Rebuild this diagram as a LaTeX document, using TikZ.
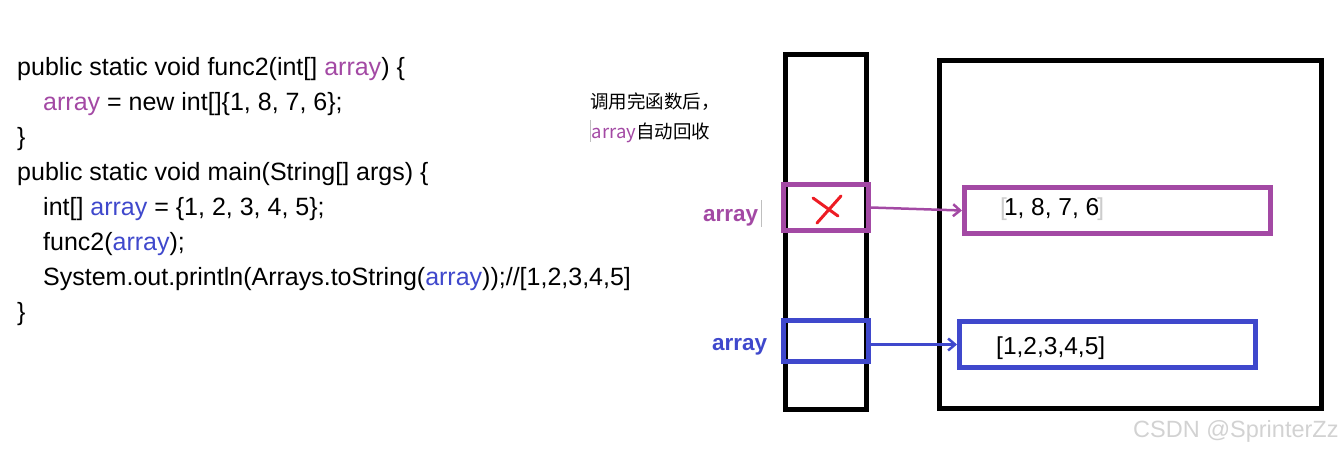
\documentclass[tikz,border=0pt]{standalone}
\usepackage{fontspec}
\setmainfont{Liberation Sans}
\newfontfamily\cjk{Noto Sans CJK SC}
\usetikzlibrary{arrows.meta}
\definecolor{varpurple}{HTML}{A349A4}
\definecolor{varblue}{HTML}{3F48CC}
\definecolor{crossred}{HTML}{ED1C24}

\begin{document}
\begin{tikzpicture}[x=1pt, y=-1pt,
  code/.style={anchor=base west, inner sep=0pt, font=\fontsize{25}{30}\selectfont},
  frame/.style={draw=black, line width=5pt, inner sep=0pt},
  slot/.style={draw=#1, line width=5pt, inner sep=0pt},
  ref/.style={draw=#1, line width=2.5pt, -{Straight Barb[length=7pt,width=12pt]}}]
\useasboundingbox (0,0) rectangle (1344,451);

\node[code] (l1) at (17,75) {public static void func2(int[] \textcolor{varpurple}{array}) \{};
\node[code] (l2) at (43,110) {\textcolor{varpurple}{array} = new int[]\{1, 8, 7, 6\};};
\node[code] (l3) at (17,145) {\}};
\node[code] (l4) at (17,180) {public static void main(String[] args) \{};
\node[code] (l5) at (43,215) {int[] \textcolor{varblue}{array} = \{1, 2, 3, 4, 5\};};
\node[code] (l6) at (43,250) {func2(\textcolor{varblue}{array});};
\node[code] (l7) at (43,285) {System.out.println(Arrays.toString(\textcolor{varblue}{array}));//[1,2,3,4,5]};
\node[code] (l8) at (17,320) {\}};

\node[anchor=base west, inner sep=0pt, font=\cjk\fontsize{18.5}{22}\selectfont] (note1) at (590,108) {调用完函数后，};
\node[anchor=base west, inner sep=0pt, font=\cjk\fontsize{18.5}{22}\selectfont] (note2) at (590,138) {\textcolor{gray!50}{\rule[-0.2em]{0.6pt}{1.15em}}\hspace{1pt}\textcolor{varpurple}{array}自动回收};

\node[frame, minimum width=81pt, minimum height=355pt] (stack) at (826,232) {};
\node[frame, minimum width=382pt, minimum height=348pt] (heap) at (1130.5,234.5) {};

\node[slot=varpurple, minimum width=85pt, minimum height=46pt] (ref1) at (826,207.5) {};
\node[slot=varblue, minimum width=85pt, minimum height=41pt] (ref2) at (826,341) {};
\node[slot=varpurple, minimum width=306pt, minimum height=46pt] (obj1) at (1117.5,210.5) {};
\node[slot=varblue, minimum width=296pt, minimum height=46pt] (obj2) at (1107.5,344.5) {};

\node[anchor=base west, inner sep=0pt, font=\bfseries\fontsize{22.5}{27}\selectfont, text=varpurple] (lab1) at (703,221) {array\hspace{3pt}\textcolor{gray!50}{\rule[-0.25em]{0.6pt}{1.2em}}};
\node[anchor=base west, inner sep=0pt, font=\bfseries\fontsize{22.5}{27}\selectfont, text=varblue] (lab2) at (712,350) {array};

\node[anchor=base west, inner sep=0pt, font=\fontsize{24.5}{29}\selectfont] (val1) at (1000,215) {\textcolor{gray!40}{[}\kern-3pt 1, 8, 7, 6\kern-2pt\textcolor{gray!40}{]}};
\node[anchor=base west, inner sep=0pt, font=\fontsize{24.5}{29}\selectfont] (val2) at (996,354) {[1,2,3,4,5]};

% the crossed out reference
\draw[crossred, line width=3pt, line cap=round] (813,198) -- (838,216);
\draw[crossred, line width=3pt, line cap=round] (841,196) -- (817,223);

\draw[ref=varpurple] (ref1.east) -- (obj1.west);
\draw[ref=varblue] (ref2.east |- obj2.west) -- (obj2.west);

\node[anchor=base west, inner sep=0pt, font=\fontsize{23.5}{28}\selectfont, text=gray!35] (mark) at (1133,437) {CSDN @SprinterZz};
\end{tikzpicture}
\end{document}
